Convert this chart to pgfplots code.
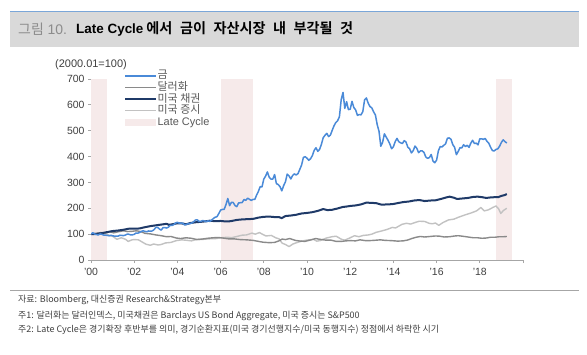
\documentclass[border=0pt]{standalone}
\usepackage{fontspec}
\usepackage{pgfplots}
\usepackage{pgfplotstable}
\pgfplotsset{compat=1.18}
\setmainfont{Liberation Sans}
\newfontfamily\kr{Noto Sans CJK KR}
\newfontfamily\krb{Noto Sans CJK KR Bold}

\definecolor{goldblue}{HTML}{4A8AD8}
\definecolor{bondnavy}{HTML}{1F3A68}
\definecolor{dollargray}{HTML}{8A8A8A}
\definecolor{stockgray}{HTML}{C2C2C2}
\definecolor{lcpink}{HTML}{F6EAEA}
\definecolor{axisgray}{HTML}{A6A6A6}
\definecolor{tickgray}{HTML}{404040}
\definecolor{leggray}{HTML}{595959}
\definecolor{barfill}{HTML}{D9D9D9}
\definecolor{barline}{HTML}{7AA6D8}
\definecolor{notegray}{HTML}{404040}
\definecolor{titlegray}{HTML}{8C8C8C}

\pgfplotsset{
  legline/.style={legend image code/.code={\draw[##1] (0bp,0bp) -- (31bp,0bp);}},
  legarea/.style={legend image code/.code={\fill[##1, draw=none] (0bp,-3.5bp) rectangle (31bp,3.5bp);}},
}

% Gold, monthly, Jan 2000 = 100 (one row per year)
\pgfplotstableread[row sep=\\]{
v\\
100\\105.6\\100.7\\98.6\\96.8\\100.7\\99.3\\96.5\\96.5\\95.1\\93.7\\95.8\\
93.7\\92.3\\92.6\\91.9\\95.8\\95.1\\94.4\\96.1\\99.6\\99.6\\97.2\\97.2\\
99.3\\104.2\\103.5\\106.7\\110.6\\113.0\\110.6\\109.2\\112.3\\111.6\\112.3\\117.3\\
125.7\\126.4\\119.7\\115.5\\125.0\\125.4\\123.6\\126.8\\133.5\\133.5\\137.0\\143.3\\
145.8\\142.6\\143.0\\142.3\\135.2\\138.0\\140.1\\140.8\\143.0\\147.9\\154.6\\155.6\\
149.3\\148.9\\152.8\\151.1\\148.6\\151.4\\149.3\\154.2\\160.6\\165.5\\167.6\\179.6\\
193.3\\195.4\\196.1\\214.8\\238.0\\209.9\\222.9\\222.5\\210.6\\206.3\\220.8\\221.5\\
222.2\\234.2\\230.6\\239.1\\234.9\\230.6\\234.2\\234.2\\251.1\\265.5\\283.8\\282.7\\
313.0\\324.6\\340.8\\320.1\\312.7\\313.0\\330.6\\295.4\\291.9\\283.8\\267.6\\287.3\\
302.1\\332.0\\325.4\\313.4\\326.8\\333.1\\328.9\\334.2\\350.7\\367.3\\396.8\\399.6\\
393.7\\385.6\\391.9\\404.2\\424.3\\434.2\\420.1\\427.8\\447.5\\472.9\\482.4\\489.8\\
477.5\\483.1\\501.4\\519.0\\531.7\\538.4\\553.9\\620.0\\647.9\\586.6\\612.3\\581.7\\
583.1\\613.7\\589.8\\580.6\\559.5\\562.7\\561.3\\573.9\\619.7\\626.8\\606.3\\593.3\\
588.4\\572.9\\560.9\\523.6\\497.9\\440.0\\455.0\\488.0\\475.0\\463.4\\448.9\\430.3\\
438.0\\458.1\\470.4\\457.4\\453.2\\450.4\\461.6\\456.3\\436.3\\430.3\\414.1\\422.9\\
440.5\\432.0\\415.1\\421.8\\422.2\\415.8\\398.2\\393.3\\396.1\\408.1\\382.4\\376.1\\
386.3\\422.5\\438.7\\437.3\\443.7\\449.3\\470.8\\472.2\\466.9\\446.1\\435.9\\407.4\\
419.7\\434.5\\433.5\\445.8\\438.7\\443.7\\435.6\\451.8\\463.0\\450.7\\451.8\\445.4\\
468.7\\468.7\\466.5\\470.1\\458.8\\451.4\\435.9\\423.2\\421.8\\427.8\\429.9\\440.1\\
454.9\\464.8\\457.7\\452.5\\
}\goldtable

\begin{document}
\begin{tikzpicture}[x=1bp,y=1bp]
\path[use as bounding box] (0,0) rectangle (587,354);
\fill[white] (0,0) rectangle (587,354);

% title bar
\fill[barfill] (10,307) rectangle (579,342);
\draw[barline, line width=1bp] (10,342) -- (579,342);
\node[anchor=west, inner sep=0pt, text=titlegray] at (18,325)
  {\fontsize{14}{16}\selectfont{\kr 그림} 10.};
\node[anchor=west, inner sep=0pt] at (76,325)
  {{\fontsize{13.5}{16}\selectfont\bfseries Late Cycle}\hspace{3bp}%
   {\krb\fontsize{14.2}{16}\selectfont\spaceskip=7.5bp 에서 금이 자산시장 내 부각될 것}};

% notes
\draw[axisgray, line width=1.2bp] (10,63.5) -- (579,63.5);
\begin{scope}[every node/.style={anchor=west, inner sep=0pt, text=notegray, font=\kr\fontsize{9}{10}\selectfont}]
\node at (18,54) {자료: Bloomberg, 대신증권 Research\&Strategy본부};
\node at (18,38.5) {주1: 달러화는 달러인덱스, 미국채권은 Barclays US Bond Aggregate, 미국 증시는 S\&P500};
\node at (18,24) {주2: Late Cycle은 경기확장 후반부를 의미, 경기순환지표(미국 경기선행지수/미국 동행지수) 정점에서 하락한 시기};
\end{scope}

\node[anchor=west, inner sep=0pt, text=tickgray, font=\fontsize{11}{12}\selectfont] at (55,289) {(2000.01=100)};

\begin{axis}[
  at={(91bp,94bp)}, anchor=south west,
  scale only axis, width=432bp, height=181bp,
  xmin=2000, xmax=2020, ymin=0, ymax=700,
  axis lines*=left,
  axis line style={draw=axisgray, line width=0.8bp},
  tick style={draw=axisgray, line width=0.8bp},
  tick align=outside, major tick length=3bp,
  xtick={2000,2002,...,2020},
  xticklabels={'00,'02,'04,'06,'08,'10,'12,'14,'16,'18,{}},
  ytick={0,100,...,700},
  /pgf/number format/assume math mode=true,
  tick label style={font=\fontsize{10.5}{12}\selectfont, text=tickgray},
  xticklabel style={yshift=-1.5bp},
  every axis plot/.append style={line join=round},
  legend style={at={(0.076,1.05)}, anchor=north west, draw=none, fill=none,
    font=\fontsize{11}{11}\selectfont, text=leggray, inner sep=0pt,
    row sep=0pt, nodes={inner sep=0.6bp, text height=8.2bp, text depth=2.2bp}},
  legend cell align=left,
]
\addlegendimage{legline, goldblue, line width=1.6bp}
\addlegendentry{\kr 금}
\addlegendimage{legline, dollargray, line width=1.4bp}
\addlegendentry{\kr 달러화}
\addlegendimage{legline, bondnavy, line width=2bp}
\addlegendentry{\kr 미국 채권}
\addlegendimage{legline, stockgray, line width=1.4bp}
\addlegendentry{\kr 미국 증시}
\addlegendimage{legarea, lcpink}
\addlegendentry{Late Cycle}

% late cycle periods
\addplot[fill=lcpink, draw=none, forget plot] coordinates {(2000,0)(2000,700)(2000.75,700)(2000.75,0)} --cycle;
\addplot[fill=lcpink, draw=none, forget plot] coordinates {(2006,0)(2006,700)(2007.5,700)(2007.5,0)} --cycle;
\addplot[fill=lcpink, draw=none, forget plot] coordinates {(2018.75,0)(2018.75,700)(2019.5,700)(2019.5,0)} --cycle;

% US equities
\addplot[stockgray, line width=1.4bp, forget plot] coordinates {
(2000.00,100)(2000.20,98)(2000.30,103)(2000.50,100)(2000.70,103)(2000.85,94)(2001.00,92)(2001.20,80)(2001.40,86)(2001.60,80)(2001.72,72)(2001.90,78)(2002.00,79)(2002.20,78)(2002.40,68)(2002.55,61)(2002.75,57)(2002.90,62)(2003.10,58)(2003.25,60)(2003.45,66)(2003.70,68)(2003.95,75)(2004.20,78)(2004.45,76)(2004.65,74)(2004.90,80)(2005.20,80)(2005.50,82)(2005.80,83)(2006.00,86)(2006.35,88)(2006.50,86)(2006.80,92)(2007.00,96)(2007.20,97)(2007.45,104)(2007.60,100)(2007.80,106)(2007.95,99)(2008.10,93)(2008.35,95)(2008.55,86)(2008.70,82)(2008.85,65)(2009.00,60)(2009.17,52)(2009.35,62)(2009.55,68)(2009.80,74)(2010.00,77)(2010.30,80)(2010.45,73)(2010.60,75)(2010.90,85)(2011.15,90)(2011.35,92)(2011.60,80)(2011.75,77)(2011.95,84)(2012.20,94)(2012.40,90)(2012.60,95)(2012.85,97)(2013.00,100)(2013.20,107)(2013.44,112)(2013.70,118)(2013.95,126)(2014.10,124)(2014.40,138)(2014.60,142)(2014.80,139)(2015.00,145)(2015.20,150)(2015.45,149)(2015.65,142)(2015.80,140)(2015.95,143)(2016.10,134)(2016.30,145)(2016.55,155)(2016.80,158)(2017.00,165)(2017.30,174)(2017.60,182)(2017.85,190)(2018.05,203)(2018.20,190)(2018.40,194)(2018.60,203)(2018.75,209)(2018.87,198)(2018.97,180)(2019.10,192)(2019.25,200)};

% dollar index
\addplot[dollargray, line width=1.4bp, forget plot] coordinates {
(2000.00,100)(2000.25,103)(2000.45,106)(2000.65,104)(2000.85,110)(2001.05,105)(2001.25,109)(2001.50,113)(2001.70,110)(2001.90,111)(2002.10,113)(2002.30,110)(2002.50,103)(2002.75,101)(2003.00,97)(2003.25,94)(2003.50,90)(2003.70,91)(2003.95,85)(2004.15,83)(2004.40,86)(2004.65,84)(2004.90,79)(2005.15,81)(2005.40,84)(2005.65,86)(2005.90,87)(2006.10,85)(2006.35,82)(2006.60,82)(2006.90,79)(2007.20,78)(2007.50,76)(2007.75,72)(2007.95,69)(2008.25,67)(2008.50,68)(2008.70,74)(2008.85,81)(2009.00,79)(2009.20,83)(2009.45,76)(2009.70,73)(2009.90,72)(2010.15,77)(2010.40,83)(2010.60,80)(2010.85,77)(2011.10,77)(2011.35,72)(2011.60,72)(2011.80,74)(2012.00,75)(2012.25,74)(2012.45,78)(2012.70,75)(2012.90,75)(2013.10,76)(2013.40,78)(2013.60,76)(2013.90,75)(2014.20,73)(2014.45,74)(2014.65,77)(2014.85,83)(2015.05,88)(2015.25,91)(2015.45,89)(2015.70,91)(2015.95,93)(2016.15,92)(2016.35,89)(2016.60,90)(2016.85,93)(2017.00,94)(2017.20,92)(2017.45,89)(2017.70,86)(2017.90,86)(2018.10,84)(2018.30,85)(2018.50,88)(2018.70,88)(2018.90,90)(2019.10,90)(2019.25,91)};

% US bond aggregate
\addplot[bondnavy, line width=2bp, forget plot] coordinates {
(2000.00,100)(2000.25,101)(2000.50,104)(2000.75,108)(2001.00,112)(2001.25,114)(2001.50,117)(2001.75,121)(2002.00,121)(2002.25,122)(2002.50,127)(2002.75,131)(2003.00,134)(2003.25,137)(2003.50,140)(2003.60,136)(2003.75,138)(2004.00,142)(2004.25,141)(2004.40,138)(2004.60,143)(2004.85,146)(2005.00,147)(2005.25,149)(2005.50,152)(2005.75,150)(2006.00,151)(2006.25,149)(2006.45,150)(2006.75,155)(2007.00,157)(2007.25,158)(2007.50,159)(2007.75,164)(2008.00,167)(2008.25,168)(2008.50,166)(2008.70,166)(2008.83,162)(2009.00,170)(2009.25,172)(2009.50,175)(2009.75,180)(2010.00,182)(2010.25,185)(2010.50,190)(2010.75,197)(2010.95,193)(2011.15,194)(2011.40,199)(2011.65,205)(2011.85,207)(2012.00,209)(2012.25,211)(2012.50,215)(2012.75,222)(2012.95,221)(2013.20,220)(2013.45,214)(2013.70,215)(2013.95,216)(2014.20,220)(2014.45,224)(2014.70,226)(2014.95,230)(2015.20,232)(2015.45,228)(2015.70,230)(2015.95,231)(2016.20,236)(2016.45,242)(2016.60,245)(2016.80,241)(2016.95,236)(2017.20,238)(2017.45,240)(2017.70,244)(2017.90,245)(2018.10,243)(2018.30,240)(2018.50,242)(2018.70,243)(2018.85,243)(2019.00,248)(2019.15,251)(2019.25,255)};

% gold
\addplot[goldblue, line width=1.5bp, forget plot] table[x expr=2000+\coordindex/12, y=v] {\goldtable};
\end{axis}
\end{tikzpicture}
\end{document}
